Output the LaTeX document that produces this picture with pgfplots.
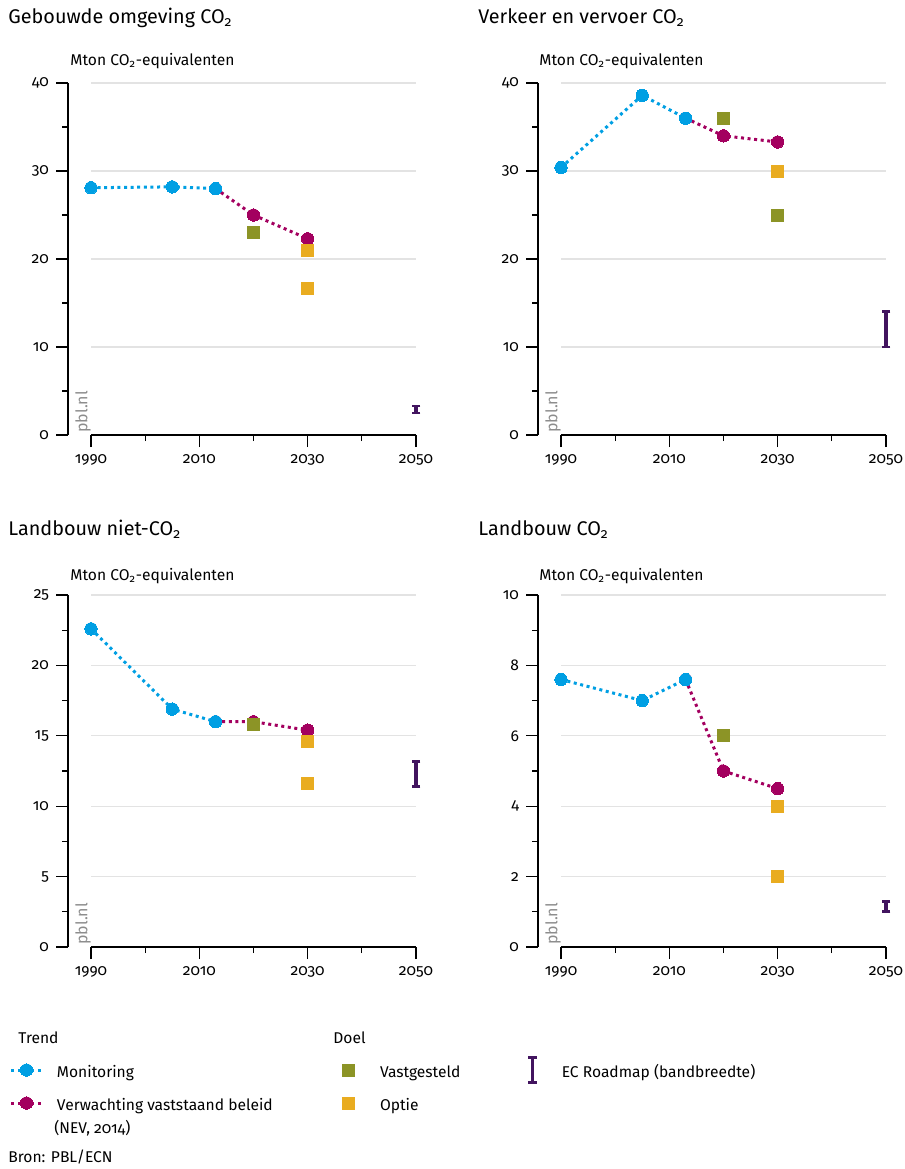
\documentclass[border=0pt]{standalone}
\usepackage{fontspec}
\setmainfont{Fira Sans}[Numbers=OldStyle]
\usepackage{pgfplots}
\pgfplotsset{compat=1.18}

\definecolor{monc}{HTML}{009FE3}
\definecolor{nevc}{HTML}{A3005F}
\definecolor{vastc}{HTML}{8C9426}
\definecolor{optc}{HTML}{E9AC20}
\definecolor{roadc}{HTML}{42145F}
\definecolor{gridc}{HTML}{E3E3E3}
\definecolor{pblc}{HTML}{8C8C8C}

\newcommand{\lab}{\fontsize{7.8}{9.4}\selectfont}
\newcommand{\ttl}{\fontsize{9.9}{11.8}\selectfont}

\pgfplotsset{
 panel/.style={
   scale only axis, width=174pt, height=176pt,
   xmin=1985.75, xmax=2050, ymin=0,
   axis x line*=bottom, axis y line*=left,
   x axis line style={draw=none},
   y axis line style={line width=0.6pt},
   xtick={1990,2010,2030,2050}, xticklabels={1990,2010,2030,2050},
   minor xtick={2000,2020,2040},
   tick align=outside,
   major tick length=6pt, minor tick length=3pt,
   tick style={black, line width=0.6pt},
   tick label style={font=\lab},
   /pgf/number format/assume math mode=true,
   clip=false,
 },
 mon/.style={monc, line width=1.5pt, dash pattern=on 1.5pt off 1.8pt, mark=*, mark size=3.1pt, mark options={solid, line width=0pt, fill=monc, draw=monc}},
 nev/.style={nevc, line width=1.5pt, dash pattern=on 1.5pt off 1.8pt, mark=*, mark size=3.1pt, mark options={solid, line width=0pt, fill=nevc, draw=nevc}},
 vast/.style={only marks, mark=square*, mark size=3pt, mark options={draw=vastc, fill=vastc, line width=0pt}},
 opt/.style={only marks, mark=square*, mark size=3pt, mark options={draw=optc, fill=optc, line width=0pt}},
 road/.style={roadc, line width=1.6pt, mark=-, mark size=2.2pt, mark options={solid, line width=1.4pt, draw=roadc}},
 linelegend/.style={legend image code/.code={\draw[##1, mark repeat=2, mark phase=2] plot coordinates {(0pt,0pt) (7.5pt,0pt) (15pt,0pt)};}},
 sqlegend/.style={legend image code/.code={\draw[##1] plot coordinates {(3pt,0pt)};}},
 roadlegend/.style={legend image code/.code={\draw[roadc, line width=1.6pt] (2.2pt,-6.25pt) -- (2.2pt,6.25pt); \draw[roadc, line width=1.4pt] (0pt,-6.25pt) -- (4.4pt,-6.25pt) (0pt,6.25pt) -- (4.4pt,6.25pt);}},
 legax/.style={hide axis, scale only axis, width=10pt, height=10pt, xmin=0, xmax=1, ymin=0, ymax=1, anchor=north west,
   legend cell align=left,
   legend style={at={(0,1)}, anchor=north west, draw=none, fill=none, inner sep=0pt, outer sep=0pt, row sep=9.5pt, font=\lab, nodes={inner sep=0pt, text height=7pt, text depth=0pt}}},
}
\tikzset{pbl/.style={rotate=90, anchor=north west, inner sep=0pt, text=pblc, font=\fontsize{8}{9}\selectfont}}

\begin{document}
\begin{tikzpicture}
\useasboundingbox (0,0) rectangle (452.5pt,-584.5pt);

% Titles
\node[anchor=base west, font=\ttl, inner sep=0pt] at (4pt,-11.7pt) {Gebouwde omgeving CO\textsubscript{2}};
\node[anchor=base west, font=\ttl, inner sep=0pt] at (239pt,-11.7pt) {Verkeer en vervoer CO\textsubscript{2}};
\node[anchor=base west, font=\ttl, inner sep=0pt] at (4pt,-267.5pt) {Landbouw niet-CO\textsubscript{2}};
\node[anchor=base west, font=\ttl, inner sep=0pt] at (239pt,-267.5pt) {Landbouw CO\textsubscript{2}};
% y labels
\node[anchor=base west, font=\lab, inner sep=0pt] at (35pt,-32.5pt) {Mton CO\textsubscript{2}-equivalenten};
\node[anchor=base west, font=\lab, inner sep=0pt] at (269.5pt,-32.5pt) {Mton CO\textsubscript{2}-equivalenten};
\node[anchor=base west, font=\lab, inner sep=0pt] at (35pt,-290pt) {Mton CO\textsubscript{2}-equivalenten};
\node[anchor=base west, font=\lab, inner sep=0pt] at (269.5pt,-290pt) {Mton CO\textsubscript{2}-equivalenten};

% ---------- Top left
\begin{axis}[panel, at={(34pt,-217.5pt)}, anchor=south west, ymax=40, ytick={0,10,20,30,40}, minor ytick={5,15,25,35}]
\pgfplotsinvokeforeach{10,20,30,40}{\draw[gridc, line width=0.6pt] (axis cs:1990,#1) -- (axis cs:2050,#1);}
\draw[black, line width=0.6pt] (axis cs:1990,0) -- (axis cs:2050,0);
\addplot[nev] coordinates {(2013,28.0) (2020,25.0) (2030,22.3)};
\addplot[mon] coordinates {(1990,28.1) (2005,28.2) (2013,28.0)};
\addplot[vast] coordinates {(2020,23.0)};
\addplot[opt] coordinates {(2030,21.0) (2030,16.7)};
\addplot[road] coordinates {(2050,2.5) (2050,3.3)};
\end{axis}
\node[pbl] at (37.5pt,-216.5pt) {pbl.nl};

% ---------- Top right
\begin{axis}[panel, at={(269pt,-217.5pt)}, anchor=south west, ymax=40, ytick={0,10,20,30,40}, minor ytick={5,15,25,35}]
\pgfplotsinvokeforeach{10,20,30,40}{\draw[gridc, line width=0.6pt] (axis cs:1990,#1) -- (axis cs:2050,#1);}
\draw[black, line width=0.6pt] (axis cs:1990,0) -- (axis cs:2050,0);
\addplot[nev] coordinates {(2013,36.0) (2020,34.0) (2030,33.3)};
\addplot[mon] coordinates {(1990,30.4) (2005,38.6) (2013,36.0)};
\addplot[vast] coordinates {(2020,36.0) (2030,25.0)};
\addplot[opt] coordinates {(2030,30.0)};
\addplot[road] coordinates {(2050,10.0) (2050,14.0)};
\end{axis}
\node[pbl] at (272.5pt,-216.5pt) {pbl.nl};

% ---------- Bottom left
\begin{axis}[panel, at={(34pt,-473.5pt)}, anchor=south west, ymax=25, ytick={0,5,10,15,20,25}, minor ytick={2.5,7.5,12.5,17.5,22.5}]
\pgfplotsinvokeforeach{5,10,15,20,25}{\draw[gridc, line width=0.6pt] (axis cs:1990,#1) -- (axis cs:2050,#1);}
\draw[black, line width=0.6pt] (axis cs:1990,0) -- (axis cs:2050,0);
\addplot[nev] coordinates {(2013,16.0) (2020,16.0) (2030,15.4)};
\addplot[mon] coordinates {(1990,22.6) (2005,16.9) (2013,16.0)};
\addplot[vast] coordinates {(2020,15.8)};
\addplot[opt] coordinates {(2030,14.6) (2030,11.6)};
\addplot[road] coordinates {(2050,11.4) (2050,13.2)};
\end{axis}
\node[pbl] at (37.5pt,-472.5pt) {pbl.nl};

% ---------- Bottom right
\begin{axis}[panel, at={(269pt,-473.5pt)}, anchor=south west, ymax=10, ytick={0,2,4,6,8,10}, minor ytick={1,3,5,7,9}]
\pgfplotsinvokeforeach{2,4,6,8,10}{\draw[gridc, line width=0.6pt] (axis cs:1990,#1) -- (axis cs:2050,#1);}
\draw[black, line width=0.6pt] (axis cs:1990,0) -- (axis cs:2050,0);
\addplot[nev] coordinates {(2013,7.6) (2020,5.0) (2030,4.5)};
\addplot[mon] coordinates {(1990,7.6) (2005,7.0) (2013,7.6)};
\addplot[vast] coordinates {(2020,6.0)};
\addplot[opt] coordinates {(2030,4.0) (2030,2.0)};
\addplot[road] coordinates {(2050,1.0) (2050,1.3)};
\end{axis}
\node[pbl] at (272.5pt,-472.5pt) {pbl.nl};

% ---------- Legend
\node[anchor=base west, font=\lab, inner sep=0pt] at (9pt,-521.5pt) {Trend};
\node[anchor=base west, font=\lab, inner sep=0pt] at (166.5pt,-521.5pt) {Doel};

\begin{axis}[legax, at={(5pt,-531.5pt)}, legend style={column sep=7pt}]
\addlegendimage{mon, linelegend}
\addlegendentry{Monitoring}
\addlegendimage{nev, linelegend}
\addlegendentry{Verwachting vaststaand beleid}
\end{axis}
\node[anchor=base west, font=\lab, inner sep=0pt] at (27pt,-566.5pt) {(NEV, 2014)};

\begin{axis}[legax, at={(171pt,-531.5pt)}, legend style={column sep=13pt}]
\addlegendimage{vast, sqlegend}
\addlegendentry{Vastgesteld}
\addlegendimage{opt, sqlegend}
\addlegendentry{Optie}
\end{axis}

\begin{axis}[legax, at={(263.3pt,-528pt)}, legend style={column sep=11.8pt}]
\addlegendimage{roadlegend}
\addlegendentry{EC Roadmap (bandbreedte)}
\end{axis}

\node[anchor=base west, font=\lab, inner sep=0pt] at (4pt,-581pt) {Bron: PBL/ECN};
\end{tikzpicture}
\end{document}
